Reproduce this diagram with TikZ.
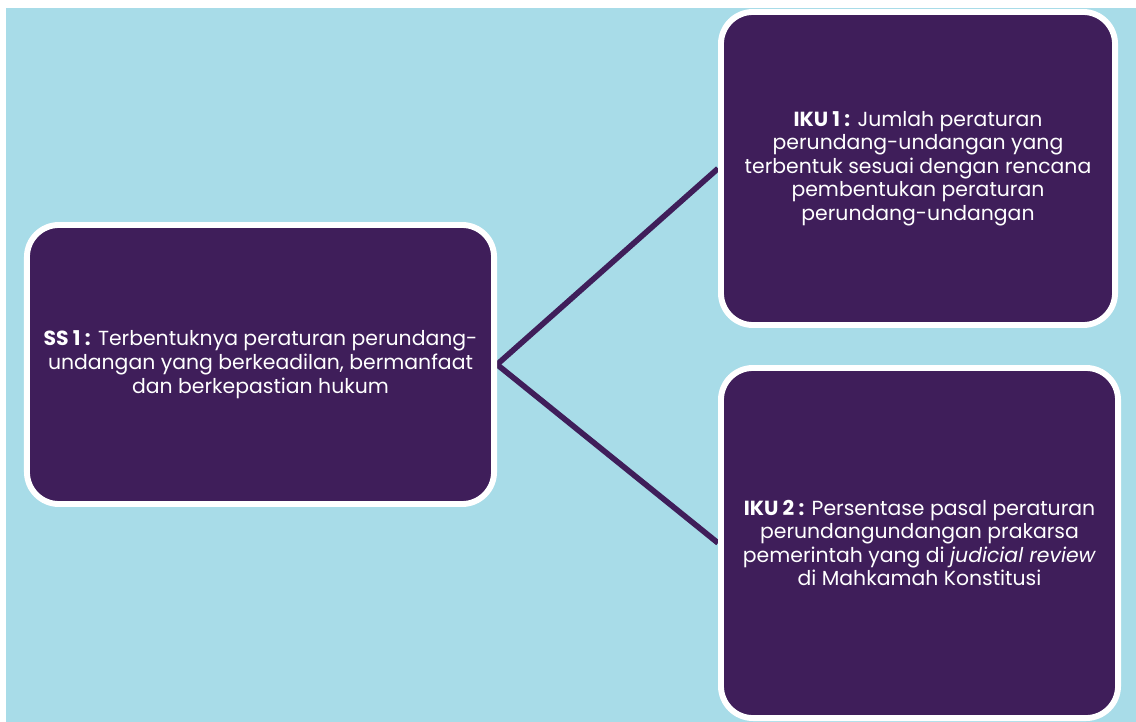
\documentclass[tikz,border=0pt]{standalone}
\usepackage{fontspec}
\setmainfont{Poppins}
\usetikzlibrary{backgrounds}
\definecolor{skyback}{HTML}{A8DCE8}
\definecolor{ungu}{HTML}{3F1E5A}
\tikzset{
    block/.style = {draw=white, fill=ungu, rounded corners=0.8cm,
        line width=4.2pt, text=white, align=center,
        font=\fontsize{14.5}{16.8}\selectfont, inner sep=0pt},
    link/.style = {draw=ungu, line width=4pt}
}

\begin{document}
\begin{tikzpicture}[x=0.025cm, y=-0.025cm]
    \useasboundingbox (0,0) rectangle (1136,722);
    \node [block, minimum width=11.675cm, minimum height=6.975cm] (ss) at (260.5,364.5)
        {\textbf{SS 1 :} Terbentuknya peraturan perundang-\\undangan yang berkeadilan, bermanfaat\\dan berkepastian hukum};
    \node [block, minimum width=9.85cm, minimum height=7.825cm] (iku1) at (918,168.5)
        {\textbf{IKU 1 :} Jumlah peraturan\\perundang-undangan yang\\terbentuk sesuai dengan rencana\\pembentukan peraturan\\perundang-undangan};
    \node [block, minimum width=9.925cm, minimum height=8.75cm] (iku2) at (919.5,543)
        {\textbf{IKU 2 :} Persentase pasal peraturan\\perundangundangan prakarsa\\pemerintah yang di \textit{judicial review}\\di Mahkamah Konstitusi};
    % background and connectors
    \begin{scope}[on background layer]
        \fill [skyback] (6,8) rectangle (1136,722);
        \draw [link] (ss.east) -- (iku1.west);
        \draw [link] (ss.east) -- (iku2.west);
    \end{scope}
\end{tikzpicture}
\end{document}
